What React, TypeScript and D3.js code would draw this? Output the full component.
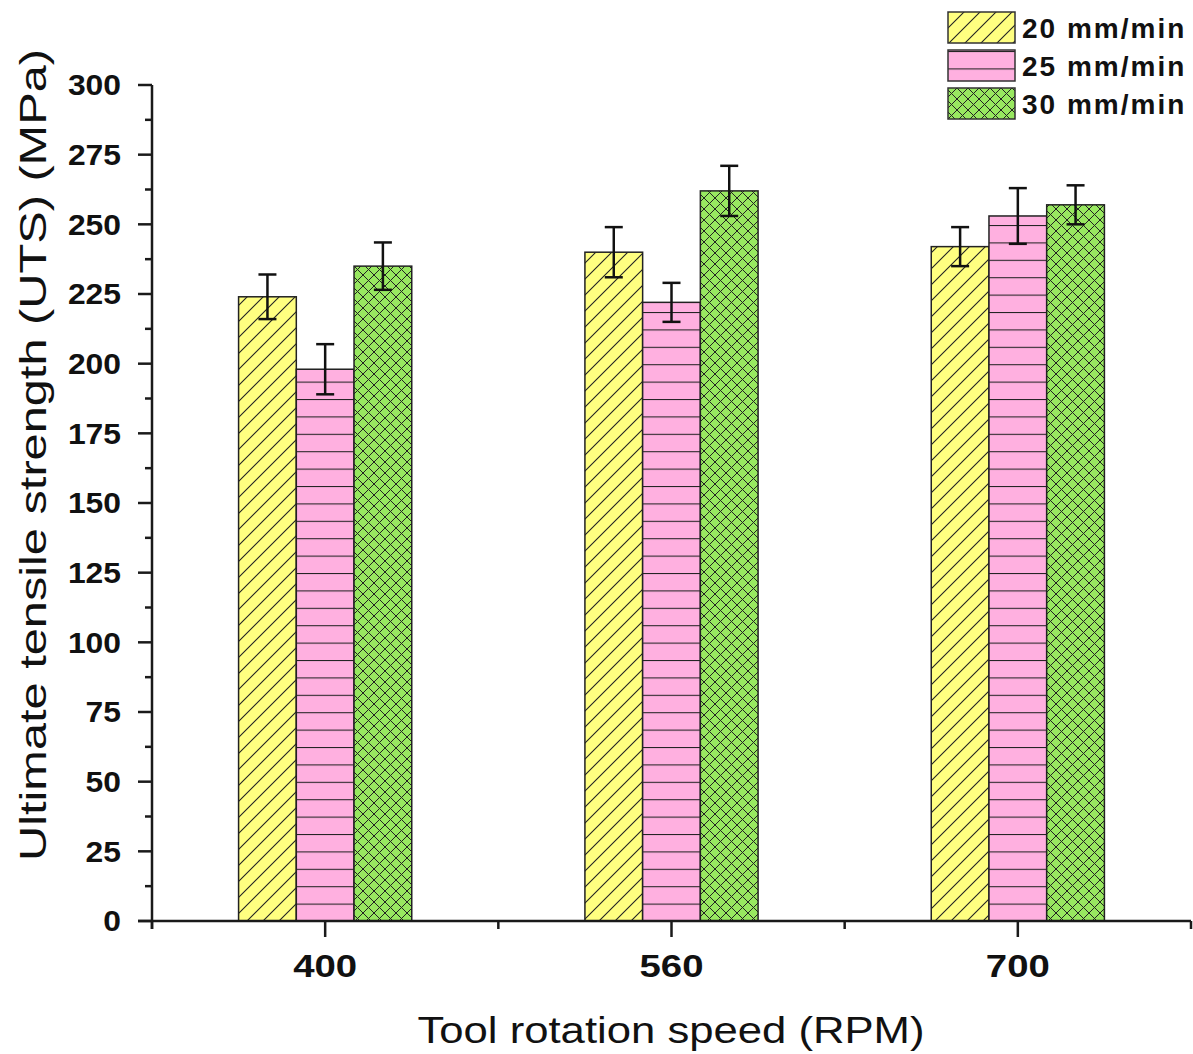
import React from "react";
import * as d3 from "d3";

const categories = ["400", "560", "700"];
const seriesNames = ["20 mm/min", "25 mm/min", "30 mm/min"];
const values20 = [224, 240, 242];
const values25 = [198, 222, 253];
const values30 = [235, 262, 257];
const err20 = [8, 9, 7];
const err25 = [9, 7, 10];
const err30 = [8.5, 9, 7];
const yTicks = [0, 25, 50, 75, 100, 125, 150, 175, 200, 225, 250, 275, 300];

const W = 1193;
const H = 1054;
const left = 152;
const right = 1191;
const top = 85;
const bottom = 921;

const fills = ["#FFFF80", "#FFB0E0", "#98E860"];
const patternIds = ["pat20", "pat25", "pat30"];

export default function App() {
  const x = d3.scaleBand<string>().domain(categories).range([left, right]).padding(0);
  const bw = x.bandwidth();
  const inner = d3
    .scaleBand<string>()
    .domain(seriesNames)
    .range([-bw / 4, bw / 4])
    .padding(0);
  const y = d3.scaleLinear().domain([0, 300]).range([bottom, top]);

  const series = [
    { name: seriesNames[0], vals: values20, errs: err20 },
    { name: seriesNames[1], vals: values25, errs: err25 },
    { name: seriesNames[2], vals: values30, errs: err30 },
  ];

  const minorY = d3.range(12.5, 300, 25);
  const minorX = [left, ...categories.map((c) => (x(c) as number) + bw)];

  const font = "Arial, 'Liberation Sans', sans-serif";
  const lineCol = "#1a1a1a";

  return (
    <svg width={W} height={H} style={{ position: "absolute", left: 0, top: 0 }}>
      <defs>
        <pattern id="pat20" patternUnits="userSpaceOnUse" width={16} height={16}>
          <rect width={16} height={16} fill={fills[0]} />
          <path d="M0,16 L16,0 M-4,4 L4,-4 M12,20 L20,12" stroke="#222" strokeWidth={1.1} />
        </pattern>
        <pattern id="pat25" patternUnits="userSpaceOnUse" width={20} height={17.4} y={bottom % 17.4}>
          <rect width={20} height={17.4} fill={fills[1]} />
          <path d="M0,0.5 L20,0.5" stroke="#222" strokeWidth={1.1} />
        </pattern>
        <pattern id="pat30" patternUnits="userSpaceOnUse" width={11} height={11}>
          <rect width={11} height={11} fill={fills[2]} />
          <path d="M0,11 L11,0 M-3,3 L3,-3 M8,14 L14,8 M0,0 L11,11 M-3,8 L3,14 M8,-3 L14,3" stroke="#222" strokeWidth={1} />
        </pattern>
      </defs>

      {series.map((s, si) =>
        categories.map((c, ci) => {
          const cx = (x(c) as number) + bw / 2;
          const bx = cx + (inner(s.name) as number);
          const v = s.vals[ci];
          return (
            <rect
              key={`b${si}-${ci}`}
              x={bx}
              y={y(v)}
              width={inner.bandwidth()}
              height={y(0) - y(v)}
              fill={`url(#${patternIds[si]})`}
              stroke="#222"
              strokeWidth={1.5}
            />
          );
        })
      )}

      {series.map((s, si) =>
        categories.map((c, ci) => {
          const cx = (x(c) as number) + bw / 2 + (inner(s.name) as number) + inner.bandwidth() / 2;
          const v = s.vals[ci];
          const e = s.errs[ci];
          const cap = 9;
          return (
            <g key={`e${si}-${ci}`} stroke="#111" strokeWidth={2.5}>
              <line x1={cx} x2={cx} y1={y(v + e)} y2={y(v - e)} />
              <line x1={cx - cap} x2={cx + cap} y1={y(v + e)} y2={y(v + e)} />
              <line x1={cx - cap} x2={cx + cap} y1={y(v - e)} y2={y(v - e)} />
            </g>
          );
        })
      )}

      <line x1={left} x2={left} y1={top} y2={bottom + 8} stroke={lineCol} strokeWidth={2.5} />
      {yTicks.map((t) => (
        <g key={`yt${t}`}>
          <line x1={left - 14} x2={left} y1={y(t)} y2={y(t)} stroke={lineCol} strokeWidth={2.5} />
          <text
            x={121}
            y={y(t)}
            dy="0.36em"
            textAnchor="end"
            fontFamily={font}
            fontWeight="bold"
            fontSize={29}
            textLength={String(t).length * 17.7}
            lengthAdjust="spacingAndGlyphs"
            fill="#111"
          >
            {t}
          </text>
        </g>
      ))}
      {minorY.map((t) => (
        <line key={`ym${t}`} x1={left - 7} x2={left} y1={y(t)} y2={y(t)} stroke={lineCol} strokeWidth={2.5} />
      ))}

      <line x1={left - 14} x2={right} y1={bottom} y2={bottom} stroke={lineCol} strokeWidth={2.5} />
      {categories.map((c) => {
        const cx = (x(c) as number) + bw / 2;
        return (
          <g key={`xt${c}`}>
            <line x1={cx} x2={cx} y1={bottom} y2={bottom + 16} stroke={lineCol} strokeWidth={2.5} />
            <text
              x={cx}
              y={977}
              textAnchor="middle"
              fontFamily={font}
              fontWeight="bold"
              fontSize={31}
              textLength={64}
              lengthAdjust="spacingAndGlyphs"
              fill="#111"
            >
              {c}
            </text>
          </g>
        );
      })}
      {minorX.map((mx, i) => (
        <line key={`xm${i}`} x1={mx} x2={mx} y1={bottom} y2={bottom + 8} stroke={lineCol} strokeWidth={2.5} />
      ))}

      <text
        x={671}
        y={1043}
        textAnchor="middle"
        fontFamily={font}
        fontSize={37}
        textLength={507}
        lengthAdjust="spacingAndGlyphs"
        fill="#111"
      >
        Tool rotation speed (RPM)
      </text>
      <text
        transform={`translate(46, 455) rotate(-90)`}
        textAnchor="middle"
        fontFamily={font}
        fontSize={37}
        textLength={812}
        lengthAdjust="spacingAndGlyphs"
        fill="#111"
      >
        Ultimate tensile strength (UTS) (MPa)
      </text>

      {seriesNames.map((n, i) => {
        const ly = 12 + i * 38;
        return (
          <g key={`lg${i}`}>
            <rect x={948} y={ly} width={67} height={31} fill={`url(#${patternIds[i]})`} stroke="#333" strokeWidth={1.5} />
            <text
              x={1022}
              y={ly + 26}
              fontFamily={font}
              fontWeight="bold"
              fontSize={28}
              letterSpacing={2}
              fill="#111"
            >
              {n}
            </text>
          </g>
        );
      })}
    </svg>
  );
}
